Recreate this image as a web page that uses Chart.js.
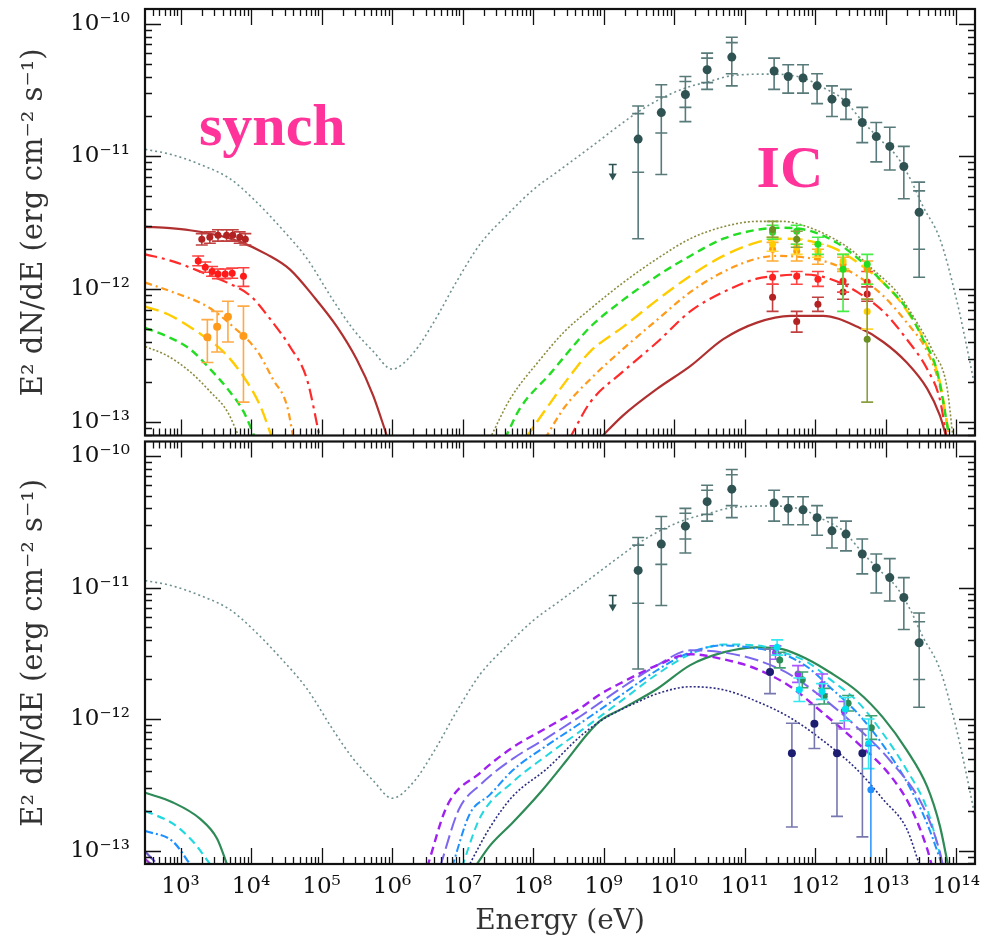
<!DOCTYPE html>
<html>
<head>
<meta charset="utf-8">
<title>SED model</title>
<script src="https://cdn.jsdelivr.net/npm/chart.js@4.4.1/dist/chart.umd.min.js"></script>
<style>
  html, body { margin: 0; padding: 0; background: #fff; }
  #wrap { position: relative; width: 986px; height: 945px; }
  #topChart { position: absolute; left: 0; top: 0; }
  #bottomChart { position: absolute; left: 0; top: 437px; }
</style>
</head>
<body>
<div id="wrap">
  <canvas id="topChart" width="986" height="440"></canvas>
  <canvas id="bottomChart" width="986" height="508"></canvas>
</div>
<script>
// axis ranges and tick labels
const xMin = 3.13e2, xMax = 1.86e14;
const yMin = 7.9e-14, yMax = 1.29e-10;
const xTickValues = [1e3, 1e4, 1e5, 1e6, 1e7, 1e8, 1e9, 1e10, 1e11, 1e12, 1e13, 1e14];
const xTickLabels = ['10³', '10⁴', '10⁵', '10⁶', '10⁷', '10⁸', '10⁹', '10¹⁰', '10¹¹', '10¹²', '10¹³', '10¹⁴'];
const yTickValues = [1e-13, 1e-12, 1e-11, 1e-10];
const yTickLabels = ['10⁻¹³', '10⁻¹²', '10⁻¹¹', '10⁻¹⁰'];

// total model (same in both panels)  [E (eV), E^2 dN/dE]
const totalModel = [
  [3.16e2, 1.13e-11], [7.1e2, 1.04e-11], [1.9e3, 8.7e-12], [5.0e3, 6.8e-12], [1.07e4, 4.8e-12],
  [2.57e4, 2.95e-12], [6.2e4, 1.7e-12], [1.45e5, 8.3e-13], [2.8e5, 5.0e-13], [5.4e5, 3.4e-13],
  [1.0e6, 2.5e-13], [2.0e6, 3.3e-13], [3.8e6, 5.5e-13], [8.3e6, 1.15e-12], [1.78e7, 2.19e-12],
  [4.3e7, 3.63e-12], [1.0e8, 5.6e-12], [2.4e8, 7.9e-12], [6.5e8, 1.17e-11], [3.0e9, 2.14e-11],
  [6.3e9, 2.7e-11], [1.5e10, 3.3e-11], [2.95e10, 3.63e-11], [6.9e10, 4.07e-11], [2.5e11, 4.17e-11],
  [6.8e11, 3.9e-11], [1.3e12, 3.3e-11], [2.5e12, 2.7e-11], [4.8e12, 1.82e-11], [8.3e12, 1.35e-11],
  [1.45e13, 1.0e-11], [2.24e13, 6.8e-12], [3.4e13, 4.2e-12], [5.9e13, 2.4e-12], [1.02e14, 8.3e-13],
  [1.45e14, 3.5e-13], [2.0e14, 1.5e-13]
];

// upper panel: synchrotron branch
const synDarkRed = [[3.16e2, 2.95e-12], [7.1e2, 2.88e-12], [1.35e3, 2.78e-12], [3.0e3, 2.58e-12], [6.9e3, 2.28e-12], [1.7e4, 1.82e-12], [3.55e4, 1.41e-12], [7.6e4, 8.9e-13], [1.66e5, 5.2e-13], [3.16e5, 2.95e-13], [5.4e5, 1.58e-13], [8.7e5, 7.5e-14]];
const synRed = [[3.16e2, 1.83e-12], [7.8e2, 1.62e-12], [2.4e3, 1.29e-12], [4.6e3, 1.12e-12], [9.8e3, 8.9e-13], [2.04e4, 5.6e-13], [3.55e4, 3.7e-13], [6.2e4, 2.1e-13], [9.5e4, 7.5e-14]];
const synOrange = [[3.16e2, 1.12e-12], [7.8e2, 9.5e-13], [2.4e3, 7.4e-13], [5.6e3, 5.2e-13], [1.23e4, 3.4e-13], [2.04e4, 2.1e-13], [3.24e4, 1.32e-13], [4.0e4, 7.5e-14]];
const synYellow = [[3.16e2, 7.4e-13], [6.5e2, 6.5e-13], [1.7e3, 4.8e-13], [4.0e3, 3.4e-13], [7.8e3, 2.2e-13], [1.35e4, 1.32e-13], [2.0e4, 7.5e-14]];
const synGreen = [[3.16e2, 5.1e-13], [6.5e2, 4.4e-13], [1.35e3, 3.55e-13], [2.63e3, 2.5e-13], [5.0e3, 1.69e-13], [7.8e3, 1.2e-13], [1.15e4, 7.5e-14]];
const synOlive = [[3.16e2, 3.7e-13], [6.5e2, 3.15e-13], [1.35e3, 2.4e-13], [2.63e3, 1.69e-13], [4.6e3, 1.2e-13], [6.9e3, 7.5e-14]];

// upper panel: inverse Compton branch
const icOlive = [[2.45e7, 7.5e-14], [4.7e7, 1.48e-13], [1.26e8, 2.95e-13], [2.8e8, 4.8e-13], [6.5e8, 7.1e-13], [1.9e9, 1.12e-12], [5.8e9, 1.7e-12], [1.7e10, 2.4e-12], [5.0e10, 2.95e-12], [1.5e11, 3.24e-12], [3.55e11, 3.24e-12], [7.8e11, 2.95e-12], [1.6e12, 2.5e-12], [3.16e12, 2.0e-12], [6.6e12, 1.41e-12], [1.45e13, 9.5e-13], [2.8e13, 5.6e-13], [4.7e13, 3.4e-13], [7.4e13, 1.86e-13], [9.1e13, 7.5e-14]];
const icGreen = [[4.0e7, 7.5e-14], [6.5e7, 1.26e-13], [1.74e8, 2.3e-13], [4.0e8, 3.9e-13], [6.5e8, 5.2e-13], [1.9e9, 8.3e-13], [5.8e9, 1.26e-12], [1.7e10, 1.78e-12], [5.0e10, 2.4e-12], [1.5e11, 2.8e-12], [3.55e11, 2.9e-12], [8.5e11, 2.75e-12], [2.0e12, 2.25e-12], [4.8e12, 1.58e-12], [9.3e12, 1.12e-12], [2.0e13, 7.1e-13], [3.4e13, 4.2e-13], [5.4e13, 2.4e-13], [8.1e13, 7.5e-14]];
const icYellow = [[7.8e7, 7.5e-14], [1.74e8, 1.38e-13], [3.3e8, 2.2e-13], [6.5e8, 3.4e-13], [1.9e9, 5.2e-13], [5.8e9, 8.3e-13], [1.7e10, 1.26e-12], [5.0e10, 1.78e-12], [1.5e11, 2.25e-12], [3.55e11, 2.4e-12], [8.5e11, 2.3e-12], [2.0e12, 2.0e-12], [4.8e12, 1.48e-12], [1.15e13, 1.0e-12], [2.24e13, 6.3e-13], [3.9e13, 3.7e-13], [5.9e13, 2.0e-13], [8.1e13, 7.5e-14]];
const icOrange = [[1.48e8, 7.5e-14], [2.8e8, 1.29e-13], [6.5e8, 2.1e-13], [1.9e9, 3.55e-13], [5.8e9, 5.9e-13], [1.7e10, 9.5e-13], [5.0e10, 1.35e-12], [1.5e11, 1.7e-12], [2.9e11, 1.78e-12], [6.8e11, 1.74e-12], [1.6e12, 1.58e-12], [4.0e12, 1.26e-12], [9.3e12, 8.9e-13], [2.0e13, 5.6e-13], [3.9e13, 3.4e-13], [5.9e13, 1.86e-13], [8.1e13, 7.5e-14]];
const icRed = [[3.3e8, 7.5e-14], [6.5e8, 1.41e-13], [1.9e9, 2.4e-13], [5.8e9, 4.0e-13], [1.7e10, 6.8e-13], [5.0e10, 9.5e-13], [1.5e11, 1.2e-12], [2.9e11, 1.26e-12], [6.8e11, 1.29e-12], [1.6e12, 1.2e-12], [4.0e12, 9.5e-13], [9.3e12, 6.8e-13], [2.0e13, 4.2e-13], [3.9e13, 2.5e-13], [5.9e13, 1.48e-13], [7.4e13, 7.5e-14]];
const icDarkRed = [[8.9e8, 7.5e-14], [1.9e9, 1.12e-13], [5.8e9, 1.78e-13], [1.7e10, 2.63e-13], [5.0e10, 4.2e-13], [1.5e11, 5.6e-13], [4.5e11, 6.3e-13], [1.3e12, 6.3e-13], [4.0e12, 5.2e-13], [9.3e12, 4.0e-13], [2.0e13, 2.8e-13], [3.9e13, 1.78e-13], [5.9e13, 1.12e-13], [7.4e13, 7.5e-14]];

// lower panel: synchrotron branch
const lowSynGreen = [[3.16e2, 2.75e-13], [7.8e2, 2.32e-13], [1.9e3, 1.74e-13], [3.3e3, 1.23e-13], [4.7e3, 7.5e-14]];
const lowSynCyan = [[3.16e2, 2.0e-13], [7.8e2, 1.6e-13], [1.5e3, 1.17e-13], [2.8e3, 7.5e-14]];
const lowSynBlue = [[3.16e2, 1.41e-13], [7.8e2, 1.17e-13], [1.45e3, 7.5e-14]];
const lowSynSlate = [[3.16e2, 9.8e-14], [5.1e2, 7.5e-14]];
const lowSynPurple = [[3.16e2, 8.6e-14], [4.2e2, 7.5e-14]];

// lower panel: inverse Compton branch
const lowIcGreen = [[1.5e7, 7.5e-14], [2.45e7, 1.09e-13], [5.2e7, 1.64e-13], [1.26e8, 2.75e-13], [3.0e8, 4.86e-13], [5.9e8, 7.7e-13], [8.9e8, 9.7e-13], [1.9e9, 1.21e-12], [5.8e9, 1.7e-12], [1.7e10, 2.57e-12], [5.0e10, 3.21e-12], [1.5e11, 3.51e-12], [3.55e11, 3.39e-12], [7.8e11, 2.85e-12], [1.6e12, 2.28e-12], [4.0e12, 1.62e-12], [9.3e12, 1.02e-12], [2.0e13, 5.8e-13], [3.9e13, 3.06e-13], [5.9e13, 1.54e-13], [7.8e13, 7.5e-14]];
const lowIcCyan = [[9.8e6, 7.5e-14], [1.78e7, 1.79e-13], [5.2e7, 3.33e-13], [1.58e8, 5.3e-13], [4.7e8, 8.1e-13], [1.9e9, 1.41e-12], [5.8e9, 2.2e-12], [1.7e10, 3.11e-12], [5.0e10, 3.69e-12], [1.5e11, 3.63e-12], [3.55e11, 3.21e-12], [7.8e11, 2.71e-12], [1.6e12, 2.02e-12], [4.0e12, 1.36e-12], [9.3e12, 7.7e-13], [2.0e13, 4.1e-13], [3.9e13, 2.06e-13], [6.6e13, 7.5e-14]];
const lowIcBlue = [[7.1e6, 7.5e-14], [1.26e7, 1.89e-13], [2.45e7, 2.66e-13], [5.2e7, 4.1e-13], [1.58e8, 6.3e-13], [4.7e8, 9.3e-13], [1.9e9, 1.56e-12], [5.8e9, 2.36e-12], [1.7e10, 3.21e-12], [5.0e10, 3.63e-12], [1.5e11, 3.44e-12], [3.55e11, 3.11e-12], [7.8e11, 2.49e-12], [1.6e12, 1.76e-12], [4.0e12, 1.11e-12], [9.3e12, 6.3e-13], [2.0e13, 3.33e-13], [3.9e13, 1.6e-13], [6.5e13, 7.5e-14]];
const lowIcSlate = [[4.8e6, 7.5e-14], [8.9e6, 2.06e-13], [1.78e7, 3.16e-13], [5.2e7, 5.0e-13], [1.58e8, 7.2e-13], [4.7e8, 1.05e-12], [1.9e9, 1.76e-12], [5.8e9, 2.57e-12], [1.7e10, 3.33e-12], [5.0e10, 3.21e-12], [1.5e11, 2.81e-12], [4.5e11, 2.17e-12], [1.3e12, 1.44e-12], [4.0e12, 8.6e-13], [1.15e13, 4.86e-13], [3.4e13, 2.17e-13], [5.9e13, 9.8e-14], [6.6e13, 7.5e-14]];
const lowIcPurple = [[3.16e6, 7.5e-14], [6.0e6, 2.17e-13], [1.78e7, 3.9e-13], [5.2e7, 6.1e-13], [1.58e8, 8.6e-13], [4.7e8, 1.21e-12], [8.9e8, 1.54e-12], [1.9e9, 1.92e-12], [5.8e9, 2.57e-12], [1.7e10, 3.11e-12], [5.0e10, 2.85e-12], [1.5e11, 2.4e-12], [4.5e11, 1.76e-12], [1.3e12, 1.11e-12], [4.0e12, 6.6e-13], [1.15e13, 3.76e-13], [2.24e13, 2.17e-13], [3.9e13, 1.03e-13], [4.6e13, 7.5e-14]];
const lowIcNavy = [[1.2e7, 7.5e-14], [2.45e7, 1.5e-13], [5.2e7, 2.6e-13], [1.58e8, 4.2e-13], [4.7e8, 7.4e-13], [1.0e9, 1.0e-12], [3.16e9, 1.36e-12], [5.8e9, 1.56e-12], [1.7e10, 1.76e-12], [5.0e10, 1.67e-12], [1.5e11, 1.36e-12], [4.5e11, 1.02e-12], [1.3e12, 6.85e-13], [4.0e12, 4.1e-13], [9.3e12, 2.44e-13], [2.0e13, 1.46e-13], [3.1e13, 7.5e-14]];

// measured points  [E, flux, lower, upper, (inner lower, inner upper)]
const gevPoints = [
  [3.1e9, 1.35e-11, 2.4e-12, 2.4e-11, 7.6e-12, 2.1e-11],
  [6.6e9, 2.14e-11, 7.3e-12, 3.47e-11, 1.5e-11, 2.8e-11],
  [1.45e10, 2.93e-11, 1.83e-11, 4.0e-11, 2.34e-11, 3.67e-11],
  [2.95e10, 4.5e-11, 3.2e-11, 6.0e-11, 3.6e-11, 5.5e-11],
  [6.6e10, 5.6e-11, 3.4e-11, 7.9e-11, 4.2e-11, 7.2e-11]
];
const gevUpperLimit = [[1.35e9, 8.7e-12]];
const tevPoints = [
  [2.63e11, 4.4e-11, 3.2e-11, 5.5e-11], [4.17e11, 4.0e-11, 3.0e-11, 4.9e-11],
  [6.76e11, 3.9e-11, 3.0e-11, 4.9e-11], [1.07e12, 3.4e-11, 2.5e-11, 4.2e-11],
  [1.74e12, 2.7e-11, 2.0e-11, 3.4e-11], [2.75e12, 2.55e-11, 1.9e-11, 3.2e-11],
  [4.68e12, 1.8e-11, 1.27e-11, 2.34e-11], [7.4e12, 1.41e-11, 9.1e-12, 1.8e-11],
  [1.15e13, 1.19e-11, 7.9e-12, 1.66e-11], [1.82e13, 8.4e-12, 4.8e-12, 1.19e-11],
  [3.0e13, 3.8e-12, 1.23e-12, 6.4e-12, 2.0e-12, 5.5e-12]
];

// upper panel: X-ray and TeV points of the individual regions
const xDarkRed = [[2.0e3, 2.38e-12, 2.15e-12, 2.62e-12], [2.6e3, 2.46e-12, 2.22e-12, 2.7e-12], [3.4e3, 2.55e-12, 2.3e-12, 2.8e-12], [4.5e3, 2.55e-12, 2.3e-12, 2.8e-12], [5.5e3, 2.55e-12, 2.3e-12, 2.8e-12], [6.9e3, 2.46e-12, 2.22e-12, 2.7e-12], [8.3e3, 2.38e-12, 2.15e-12, 2.62e-12]];
const xRed = [[1.78e3, 1.63e-12, 1.5e-12, 1.78e-12], [2.24e3, 1.46e-12, 1.34e-12, 1.6e-12], [2.8e3, 1.36e-12, 1.25e-12, 1.48e-12], [3.4e3, 1.3e-12, 1.2e-12, 1.42e-12], [4.3e3, 1.3e-12, 1.2e-12, 1.42e-12], [5.4e3, 1.32e-12, 1.21e-12, 1.44e-12], [7.8e3, 1.25e-12, 1.05e-12, 1.45e-12]];
const xOrange = [[2.4e3, 4.35e-13, 2.8e-13, 5.9e-13], [3.3e3, 5.2e-13, 3.36e-13, 6.8e-13], [4.7e3, 6.2e-13, 4.0e-13, 8.1e-13], [7.8e3, 4.43e-13, 1.41e-13, 7.45e-13]];
const tGreen = [[2.5e11, 2.68e-12, 2.38e-12, 3.03e-12], [5.5e11, 2.73e-12, 2.18e-12, 3.03e-12], [1.1e12, 2.18e-12, 1.83e-12, 2.46e-12], [2.5e12, 1.41e-12, 6.8e-13, 1.83e-12], [5.5e12, 1.54e-12, 1.09e-12, 1.83e-12]];
const tOlive = [[2.5e11, 2.82e-12, 2.46e-12, 3.24e-12], [5.5e11, 2.38e-12, 2.07e-12, 2.73e-12], [5.5e12, 4.2e-13, 1.41e-13, 8.4e-13]];
const tYellow = [[2.5e11, 2.18e-12, 1.93e-12, 2.46e-12], [5.5e11, 2.07e-12, 1.83e-12, 2.38e-12], [1.1e12, 1.93e-12, 1.74e-12, 2.18e-12], [2.5e12, 1.63e-12, 1.41e-12, 1.83e-12], [5.5e12, 6.8e-13, 5.0e-13, 8.4e-13]];
const tOrange = [[2.5e11, 2.0e-12, 1.63e-12, 2.25e-12], [5.5e11, 1.93e-12, 1.63e-12, 2.18e-12], [1.1e12, 1.77e-12, 1.54e-12, 2.0e-12], [2.5e12, 1.54e-12, 1.36e-12, 1.74e-12], [5.5e12, 1.41e-12, 1.09e-12, 1.63e-12]];
const tRed = [[2.5e11, 1.23e-12, 1.09e-12, 1.36e-12], [5.5e11, 1.25e-12, 1.09e-12, 1.36e-12], [1.1e12, 1.19e-12, 1.05e-12, 1.36e-12], [2.5e12, 1.15e-12, 9.5e-13, 1.41e-12], [5.5e12, 1.13e-12, 8.4e-13, 1.36e-12]];
const tDarkRed = [[2.5e11, 8.7e-13, 6.8e-13, 1.09e-12], [5.5e11, 5.7e-13, 4.75e-13, 6.8e-13], [1.1e12, 7.7e-13, 6.8e-13, 8.7e-13], [2.5e12, 9.5e-13, 8.4e-13, 1.09e-12], [5.5e12, 9.2e-13, 8.1e-13, 1.04e-12]];

// lower panel: TeV points of the individual regions
const bGreen = [[3.16e11, 2.81e-12, 2.45e-12, 3.22e-12], [6.6e11, 1.99e-12, 1.73e-12, 2.28e-12], [1.35e12, 1.49e-12, 1.3e-12, 1.71e-12], [2.95e12, 1.32e-12, 1.15e-12, 1.51e-12], [6.3e12, 8.6e-13, 7.0e-13, 1.06e-12]];
const bCyan = [[2.9e11, 3.51e-12, 3.06e-12, 4.0e-12], [6.0e11, 1.67e-12, 1.36e-12, 2.05e-12], [1.26e12, 1.62e-12, 1.41e-12, 1.86e-12], [2.7e12, 1.19e-12, 9.7e-13, 1.46e-12], [5.75e12, 6.5e-13, 4.2e-13, 1.0e-12]];
const bPurple = [[2.75e11, 3.21e-12, 2.85e-12, 3.6e-12], [5.75e11, 2.2e-12, 1.9e-12, 2.55e-12], [1.26e12, 1.82e-12, 1.55e-12, 2.2e-12], [2.6e12, 1.15e-12, 8.4e-13, 1.36e-12]];
const bBlue = [[6.2e12, 2.9e-13, 5e-14, 6.3e-13]];
const bNavy = [[2.3e11, 2.28e-12, 1.56e-12, 3.39e-12], [4.7e11, 5.5e-13, 1.51e-13, 9.3e-13], [9.8e11, 9.2e-13, 5.97e-13, 1.29e-12], [2.05e12, 5.5e-13, 1.82e-13, 9.3e-13], [4.7e12, 5.5e-13, 1.27e-13, 8.4e-13]];

// in-plot labels, anchored in data coordinates
const tags = [
  { text: 'synch', x: 2.0e4, y: 1.6e-11 },
  { text: 'IC', x: 4.4e11, y: 7.7e-12 }
];

const SERIF = "'DejaVu Serif', serif";

function toXY(arr) {
  return arr.map(p => ({ x: p[0], y: p[1] }));
}

function curve(arr, color, dash, width) {
  return {
    type: 'line', data: toXY(arr), borderColor: color, borderDash: dash || [],
    borderWidth: width || 2, pointRadius: 0, fill: false, cubicInterpolationMode: 'monotone'
  };
}

function points(arr, color, barColor, radius) {
  return {
    type: 'scatter',
    data: arr.map(p => ({ x: p[0], y: p[1], lo: p[2], hi: p[3], slo: p[4], shi: p[5] })),
    backgroundColor: color, borderColor: color, pointRadius: radius || 3.5, borderWidth: 0,
    bars: true, barColor: barColor || color
  };
}

// error bars and upper-limit arrows, drawn just under each point set
const errorBars = {
  id: 'errorBars',
  beforeDatasetDraw(chart, args) {
    const ds = chart.data.datasets[args.index];
    if (!ds.bars && !ds.limit) return;
    const { ctx, chartArea: a, scales: { x, y } } = chart;
    ctx.save();
    ctx.beginPath();
    ctx.rect(a.left, a.top, a.width, a.height);
    ctx.clip();
    ctx.strokeStyle = ds.barColor;
    ctx.fillStyle = ds.barColor;
    ctx.lineWidth = 1.6;
    ds.data.forEach(p => {
      const px = x.getPixelForValue(p.x);
      if (ds.limit) {
        const py = y.getPixelForValue(p.y);
        ctx.beginPath();
        ctx.moveTo(px - 4, py); ctx.lineTo(px + 4, py);
        ctx.moveTo(px, py); ctx.lineTo(px, py + 12);
        ctx.stroke();
        ctx.beginPath();
        ctx.moveTo(px - 4, py + 9); ctx.lineTo(px + 4, py + 9); ctx.lineTo(px, py + 16);
        ctx.closePath();
        ctx.fill();
        return;
      }
      const top = y.getPixelForValue(p.hi), bot = y.getPixelForValue(p.lo);
      ctx.beginPath();
      ctx.moveTo(px, top); ctx.lineTo(px, bot);
      ctx.moveTo(px - 6, top); ctx.lineTo(px + 6, top);
      ctx.moveTo(px - 6, bot); ctx.lineTo(px + 6, bot);
      if (p.slo) {
        const st = y.getPixelForValue(p.shi), sb = y.getPixelForValue(p.slo);
        ctx.moveTo(px - 6, st); ctx.lineTo(px + 6, st);
        ctx.moveTo(px - 6, sb); ctx.lineTo(px + 6, sb);
      }
      ctx.stroke();
    });
    ctx.restore();
  }
};

// box frame with inward major/minor ticks on all four sides
const frame = {
  id: 'frame',
  afterDraw(chart) {
    const { ctx, chartArea: a, scales: { x, y } } = chart;
    ctx.save();
    ctx.strokeStyle = '#111';
    ctx.lineWidth = 1.3;
    ctx.beginPath();
    for (let d = 1e2; d <= 1e15; d *= 10) {
      for (let m = 1; m <= 9; m++) {
        const v = d * m;
        if (v < xMin || v > xMax) continue;
        const px = Math.round(x.getPixelForValue(v)) + 0.5;
        const len = m === 1 ? 16 : 7;
        ctx.moveTo(px, a.bottom); ctx.lineTo(px, a.bottom - len);
        ctx.moveTo(px, a.top); ctx.lineTo(px, a.top + len);
      }
    }
    for (let d = 1e-14; d <= 1e-10; d *= 10) {
      for (let m = 1; m <= 9; m++) {
        const v = d * m;
        if (v < yMin || v > yMax) continue;
        const py = Math.round(y.getPixelForValue(v)) + 0.5;
        const len = m === 1 ? 16 : 7;
        ctx.moveTo(a.left, py); ctx.lineTo(a.left + len, py);
        ctx.moveTo(a.right, py); ctx.lineTo(a.right - len, py);
      }
    }
    ctx.stroke();
    ctx.lineWidth = 2.2;
    ctx.strokeRect(a.left, a.top, a.width, a.height);
    ctx.restore();
  }
};

const tagLabels = {
  id: 'tagLabels',
  afterDatasetsDraw(chart, args, opts) {
    if (!opts.items) return;
    const { ctx, scales: { x, y } } = chart;
    ctx.save();
    ctx.fillStyle = '#ff3399';
    ctx.font = "bold 60px 'Liberation Serif', serif";
    ctx.textAlign = 'center';
    ctx.textBaseline = 'middle';
    opts.items.forEach(t => ctx.fillText(t.text, x.getPixelForValue(t.x), y.getPixelForValue(t.y)));
    ctx.restore();
  }
};

function options(showX, tagItems) {
  return {
    responsive: false,
    animation: false,
    layout: { padding: showX ? { top: 0, right: 11, bottom: 0, left: 0 } : { top: 9, right: 11, bottom: 3, left: 0 } },
    plugins: {
      legend: { display: false },
      tooltip: { enabled: false },
      tagLabels: { items: tagItems }
    },
    scales: {
      x: {
        type: 'logarithmic', min: xMin, max: xMax, display: showX,
        afterFit(s) {
          s.height = showX ? 81 : 0;
          s.paddingLeft = 0; s.paddingRight = 0;
        },
        afterBuildTicks(s) { s.ticks = xTickValues.map(v => ({ value: v })); },
        ticks: {
          callback: (v, i) => xTickLabels[i], autoSkip: false, maxRotation: 0,
          font: { family: SERIF, size: 23 }, color: '#111', padding: 9
        },
        grid: { display: false, drawTicks: false },
        border: { display: false },
        title: { display: true, text: 'Energy (eV)', font: { family: SERIF, size: 28 }, color: '#333', padding: { top: 0, bottom: 6 } }
      },
      y: {
        type: 'logarithmic', min: yMin, max: yMax,
        afterFit(s) {
          s.width = 145;
          s.paddingTop = 0; s.paddingBottom = 0;
        },
        afterBuildTicks(s) { s.ticks = yTickValues.map(v => ({ value: v })); },
        ticks: {
          callback: (v, i) => yTickLabels[i], autoSkip: false,
          font: { family: SERIF, size: 23 }, color: '#111', padding: 15
        },
        grid: { display: false, drawTicks: false },
        border: { display: false },
        title: { display: true, text: 'E² dN/dE (erg cm⁻² s⁻¹)', font: { family: SERIF, size: 29 }, color: '#333', padding: { top: 17, bottom: 0 } }
      }
    }
  };
}

const TEAL = '#2f5252', TEAL_BAR = '#587a7a';

function gammaSets() {
  return [
    { type: 'scatter', data: toXY(gevUpperLimit), pointRadius: 0, limit: true, barColor: TEAL },
    points(gevPoints, TEAL, TEAL_BAR, 4.5),
    points(tevPoints, TEAL, TEAL_BAR, 4.5)
  ];
}

new Chart(document.getElementById('topChart'), {
  type: 'scatter',
  data: {
    datasets: [
      ...gammaSets(),
      points(xDarkRed, '#b22222', '#c04040'),
      points(xRed, '#ff1a1a', '#ff4040'),
      points(xOrange, '#ff9a1a', '#ffaa44', 4),
      points(tOlive, '#6b8e23', '#8aa040'),
      points(tGreen, '#22dd22', '#44ee44'),
      points(tYellow, '#ffcc00', '#ffd633'),
      points(tOrange, '#ff9900', '#ffaa33'),
      points(tRed, '#ff2020', '#ff4444'),
      points(tDarkRed, '#b22222', '#c04040'),
      curve(totalModel, '#6f9090', [2, 3], 1.6),
      curve(synDarkRed, '#b03030', [], 2.2),
      curve(synRed, '#ff2a2a', [12, 5, 3, 5], 2.2),
      curve(synOrange, '#ff9a1a', [7, 4, 2, 4], 2.2),
      curve(synYellow, '#ffcc00', [14, 6], 2.4),
      curve(synGreen, '#22dd22', [8, 5], 2.4),
      curve(synOlive, '#8c8c40', [2, 2], 1.6),
      curve(icOlive, '#8c8c40', [2, 2], 1.6),
      curve(icGreen, '#22dd22', [8, 5], 2.4),
      curve(icYellow, '#ffcc00', [14, 6], 2.4),
      curve(icOrange, '#ff9a1a', [7, 4, 2, 4], 2.2),
      curve(icRed, '#ff2a2a', [12, 5, 3, 5], 2.2),
      curve(icDarkRed, '#b03030', [], 2.2)
    ]
  },
  options: options(false, tags),
  plugins: [errorBars, tagLabels, frame]
});

new Chart(document.getElementById('bottomChart'), {
  type: 'scatter',
  data: {
    datasets: [
      ...gammaSets(),
      points(bBlue, '#1e90ff', '#3399ff'),
      points(bCyan, '#00e0ee', '#33e8f0'),
      points(bGreen, '#2e8b57', '#3fa070'),
      points(bPurple, '#9933ff', '#aa55ff'),
      points(bNavy, '#1c1c70', '#7777b0', 4),
      curve(totalModel, '#6f9090', [2, 3], 1.6),
      curve(lowSynGreen, '#2e8b57', [], 2.2),
      curve(lowSynCyan, '#22d8e0', [8, 5], 2.2),
      curve(lowSynBlue, '#1e90ff', [8, 3, 2, 3], 2.2),
      curve(lowSynSlate, '#6a5acd', [14, 5], 2.2),
      curve(lowSynPurple, '#9932cc', [8, 5], 2.2),
      curve(lowIcNavy, '#2a2a80', [2, 2], 1.6),
      curve(lowIcPurple, '#a020f0', [8, 5], 2.4),
      curve(lowIcSlate, '#7b68ee', [14, 5], 2),
      curve(lowIcBlue, '#1e90ff', [8, 3, 2, 3], 2),
      curve(lowIcCyan, '#22d8e0', [8, 5], 2),
      curve(lowIcGreen, '#2e8b57', [], 2.2)
    ]
  },
  options: options(true, null),
  plugins: [errorBars, tagLabels, frame]
});
</script>
</body>
</html>
